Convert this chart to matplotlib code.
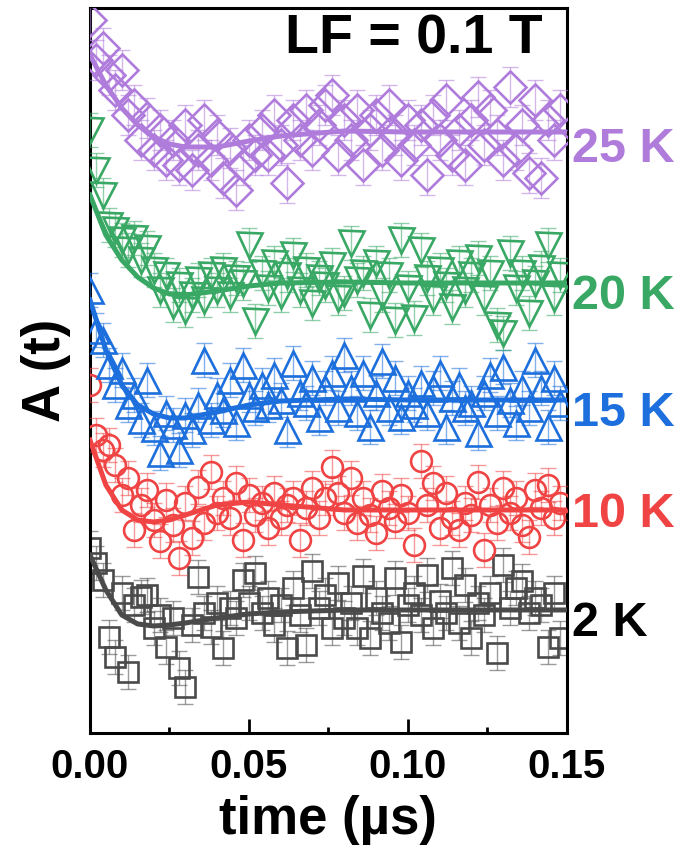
import matplotlib
matplotlib.use("Agg")
import matplotlib.pyplot as plt
import numpy as np

plt.rcParams["font.family"] = ["Liberation Sans", "DejaVu Sans"]
plt.rcParams["font.weight"] = "bold"

# time bins (us), 2 ns spacing
t = np.arange(75) * 0.002

# shifted asymmetry (vertical offsets already applied), one list per temperature
a_2K = [1.85, 1.70, 1.53, 0.96, 0.76, 1.40, 0.61, 1.28, 1.36, 1.38, 1.05, 1.18, 0.86, 1.15, 0.65,
        0.46, 1.08, 1.56, 1.20, 1.06, 1.30, 0.85, 1.25, 1.15, 1.53, 1.30, 1.60, 1.20, 1.35, 1.08,
        1.28, 0.85, 1.45, 1.18, 0.88, 1.62, 1.25, 1.38, 1.05, 1.50, 1.15, 1.30, 1.05, 1.57, 0.95,
        1.35, 1.20, 1.10, 1.55, 0.91, 1.28, 1.40, 1.18, 1.58, 1.05, 1.32, 1.20, 1.65, 1.10, 1.48,
        0.95, 1.30, 1.18, 1.40, 0.80, 1.68, 1.25, 1.45, 1.52, 1.20, 1.35, 1.28, 0.86, 1.40, 0.95]
a_10K = [3.48, 2.98, 2.83, 2.88, 2.68, 2.38, 2.55, 2.03, 2.28, 2.43, 2.13, 1.92, 2.33, 2.08, 1.75,
         2.30, 1.95, 2.46, 2.10, 2.61, 2.20, 2.35, 2.15, 2.50, 1.93, 2.38, 2.18, 2.30, 2.05, 2.40,
         2.15, 2.28, 2.35, 1.93, 2.25, 2.45, 2.15, 2.35, 2.66, 2.40, 2.20, 2.55, 2.10, 2.35, 2.18,
         2.00, 2.42, 2.25, 2.12, 2.38, 2.20, 1.88, 2.72, 2.28, 2.50, 2.05, 2.40, 2.15, 2.03, 2.30,
         2.18, 2.51, 1.83, 2.28, 2.10, 2.45, 2.20, 2.35, 2.08, 1.96, 2.43, 2.25, 2.48, 2.15, 2.30]
a_15K = [4.43, 4.03, 3.93, 3.68, 3.48, 3.63, 3.28, 3.38, 3.13, 3.53, 3.05, 2.80, 3.20, 3.08, 2.83,
         3.18, 3.03, 3.28, 3.73, 3.13, 3.38, 3.23, 3.53, 3.10, 3.68, 3.38, 3.25, 3.48, 3.28, 3.58,
         3.33, 3.03, 3.70, 3.40, 3.30, 3.55, 3.15, 3.45, 3.60, 3.25, 3.78, 3.45, 3.20, 3.60, 3.06,
         3.40, 3.72, 3.25, 3.55, 3.16, 3.40, 3.28, 3.50, 3.20, 3.45, 3.60, 3.06, 3.35, 3.48, 3.25,
         3.30, 3.00, 3.40, 3.58, 3.20, 3.66, 3.33, 3.10, 3.45, 3.25, 3.73, 3.45, 3.06, 3.55, 3.30]
a_20K = [6.03, 5.63, 5.38, 5.08, 5.03, 4.93, 4.83, 4.95, 4.73, 4.85, 4.63, 4.43, 4.58, 4.28, 4.48,
         4.23, 4.38, 4.53, 4.33, 4.58, 4.43, 4.63, 4.38, 4.55, 4.50, 4.88, 4.12, 4.60, 4.45, 4.70,
         4.38, 4.58, 4.78, 4.43, 4.63, 4.30, 4.55, 4.48, 4.68, 4.35, 4.40, 4.90, 4.53, 4.60, 4.18,
         4.70, 4.38, 4.58, 4.13, 4.93, 4.45, 4.15, 4.83, 4.55, 4.35, 4.63, 4.48, 4.26, 4.70, 4.43,
         4.58, 4.75, 4.35, 4.60, 4.08, 4.00, 4.80, 4.45, 4.60, 4.20, 4.50, 4.65, 4.88, 4.35, 4.58]
a_25K = [7.13, 6.73, 6.85, 6.58, 6.43, 6.63, 6.18, 6.28, 5.93, 6.15, 5.83, 6.03, 5.73, 5.93, 5.68,
         6.08, 5.63, 5.83, 6.13, 5.73, 5.98, 5.55, 5.85, 5.43, 5.68, 5.93, 5.78, 6.03, 5.78, 6.18,
         5.88, 5.50, 6.13, 5.93, 6.23, 5.83, 6.08, 6.28, 6.38, 5.78, 6.13, 5.93, 6.23, 5.68, 6.03,
         6.18, 5.83, 6.28, 5.98, 5.73, 6.13, 5.88, 6.08, 5.58, 6.18, 5.93, 6.33, 5.78, 6.03, 5.68,
         6.13, 6.36, 5.88, 6.23, 5.98, 5.73, 6.46, 5.83, 6.08, 5.60, 6.33, 5.55, 6.13, 5.93, 6.23]
err = [0.17, 0.17, 0.17, 0.17, 0.20]

# fit curves
fit_t = [0, 0.005, 0.01, 0.015, 0.02, 0.025, 0.03, 0.04, 0.05, 0.06, 0.08, 0.10, 0.15]
fit_2K = [1.78, 1.43, 1.18, 1.09, 1.07, 1.08, 1.10, 1.15, 1.19, 1.21, 1.23, 1.23, 1.23]
fit_10K = [2.93, 2.48, 2.23, 2.13, 2.11, 2.13, 2.18, 2.28, 2.31, 2.28, 2.23, 2.23, 2.23]
fit_15K = [4.33, 3.83, 3.48, 3.28, 3.19, 3.15, 3.15, 3.21, 3.28, 3.32, 3.34, 3.33, 3.33]
fit_20K = [5.38, 4.98, 4.73, 4.56, 4.45, 4.39, 4.38, 4.42, 4.47, 4.50, 4.51, 4.50, 4.50]
fit_25K = [6.78, 6.48, 6.25, 6.08, 5.96, 5.89, 5.86, 5.86, 5.92, 5.97, 6.02, 6.01, 6.01]

labels = ["2 K", "10 K", "15 K", "20 K", "25 K"]
label_y = [1.09, 2.18, 3.19, 4.36, 5.83]
colors = ["#4a4a4a", "#f04444", "#1c6fdc", "#38a864", "#b07cdc"]
label_colors = ["black", "#f04444", "#1c6fdc", "#38a864", "#b07cdc"]
markers = ["s", "o", "^", "v", "D"]
msizes = [14, 15, 18, 18, 16]

data = [a_2K, a_10K, a_15K, a_20K, a_25K]
fits = [fit_2K, fit_10K, fit_15K, fit_20K, fit_25K]

fig = plt.figure(figsize=(6.92, 8.61), dpi=100)
ax = fig.add_axes([0.130, 0.1487, 0.689, 0.842])

for i in range(5):
    ax.errorbar(t, data[i], yerr=err[i], fmt="none", ecolor=colors[i], alpha=0.55,
                elinewidth=1.0, capsize=6, capthick=1.0, zorder=2 + i)
    ax.plot(t, data[i], ls="none", marker=markers[i], ms=msizes[i], mfc="none",
            mec=colors[i], mew=1.9, zorder=2 + i)
    ax.plot(fit_t, fits[i], color=colors[i], lw=3.6, zorder=10 + i)
    ax.text(1.01, label_y[i], labels[i], transform=ax.get_yaxis_transform(),
            color=label_colors[i], fontsize=35, fontweight="bold", va="center", ha="left")

ax.text(0.68, 0.956, "LF = 0.1 T", transform=ax.transAxes, fontsize=40,
        fontweight="bold", ha="center", va="center")

ax.set_xlim(0, 0.15)
ax.set_ylim(0, 7.25)
ax.set_xticks([0.00, 0.05, 0.10, 0.15])
ax.set_xticklabels(["0.00", "0.05", "0.10", "0.15"])
ax.set_xticks([0.025, 0.075, 0.125], minor=True)
ax.set_yticks([])
ax.tick_params(axis="x", which="major", direction="in", length=10, width=2,
               labelsize=29, pad=11)
ax.tick_params(axis="x", which="minor", direction="in", length=4.5, width=2)
for lab in ax.get_xticklabels():
    lab.set_fontweight("bold")
for s in ax.spines.values():
    s.set_linewidth(2.2)

ax.set_xlabel("time (\u00b5s)", fontsize=38, fontweight="bold", labelpad=6)
ax.set_ylabel("A (t)", fontsize=38, fontweight="bold", labelpad=14)

plt.savefig("out.png", dpi=100)
